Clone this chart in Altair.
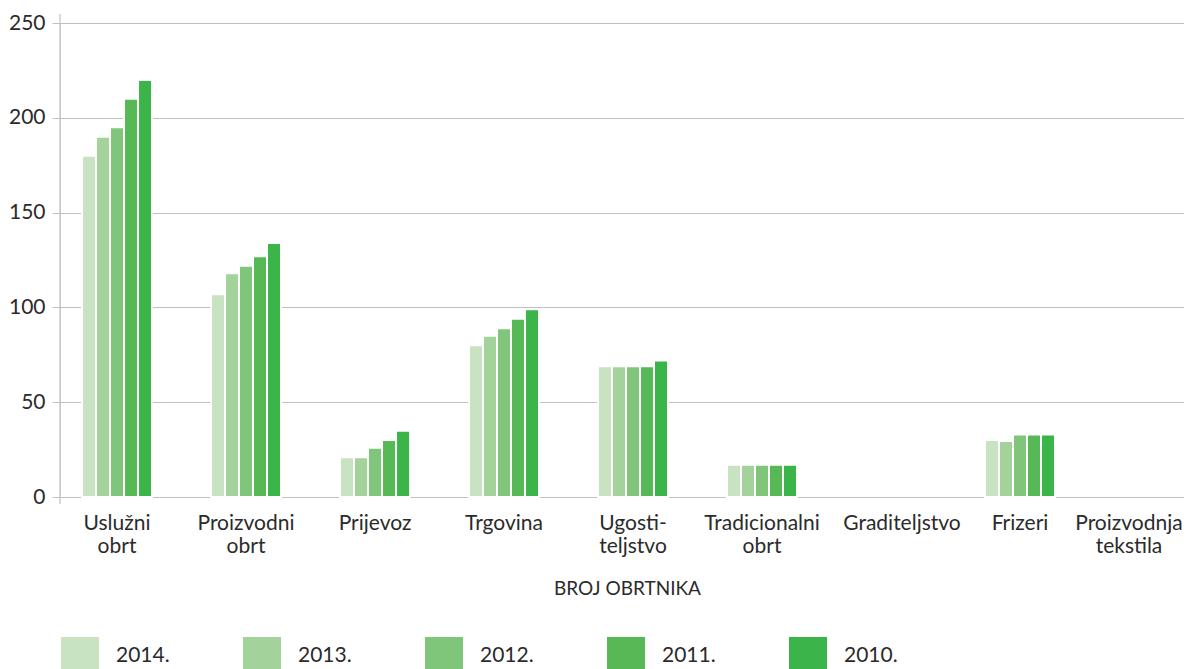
import json
import altair as alt
import pandas as pd

categories = ["Uslužni obrt", "Proizvodni obrt", "Prijevoz", "Trgovina", "Ugostiteljstvo",
              "Tradicionalni obrt", "Graditeljstvo", "Frizeri", "Proizvodnja tekstila"]
label_lines = [["Uslužni", "obrt"], ["Proizvodni", "obrt"], ["Prijevoz"], ["Trgovina"],
               ["Ugosti-", "teljstvo"], ["Tradicionalni", "obrt"], ["Graditeljstvo"],
               ["Frizeri"], ["Proizvodnja", "tekstila"]]
years = ["2014.", "2013.", "2012.", "2011.", "2010."]
colors = ["#c8e3c1", "#a3d39b", "#80c67a", "#56b955", "#3bb54a"]

v2014 = [180, 107, 21, 80, 69, 17, 0, 30, 0]
v2013 = [190, 118, 21, 85, 69, 17, 0, 29.5, 0]
v2012 = [195, 122, 26, 89, 69, 17, 0, 33, 0]
v2011 = [210, 127, 30, 94, 69, 17, 0, 33, 0]
v2010 = [220, 134, 35, 99, 72, 17, 0, 33, 0]
y_ticks = [0, 50, 100, 150, 200, 250]

series = dict(zip(years, [v2014, v2013, v2012, v2011, v2010]))
rows = []
for y, vals in series.items():
    for c, v in zip(categories, vals):
        rows.append({"kategorija": c, "godina": y, "broj": v})
df = pd.DataFrame(rows)

FONT = "Lato"
TXT = "#2b2b2b"
GRID = "#c0c0c0"

label_expr = f"{json.dumps(label_lines, ensure_ascii=False)}[indexof({json.dumps(categories, ensure_ascii=False)}, datum.value)]"

bars = alt.Chart(df).transform_filter("datum.broj > 0").mark_bar(
    stroke="white", strokeWidth=2
).encode(
    x=alt.X("kategorija:N", sort=categories,
            scale=alt.Scale(domain=categories, range=[0, 1146], paddingInner=0.457, paddingOuter=0.1705),
            axis=alt.Axis(title="BROJ OBRTNIKA", labelExpr=label_expr, labelAngle=0,
                          labelFont=FONT, labelFontSize=21, labelColor=TXT, labelLineHeight=23,
                          labelPadding=15, ticks=False, domain=False, labelLimit=300,
                          labelOffset={"condition": [
                              {"test": "datum.value === 'Proizvodnja tekstila'", "value": -20},
                              {"test": "datum.value === 'Graditeljstvo'", "value": 11}], "value": 0},
                          titleFont=FONT, titleFontSize=19, titleFontWeight="normal", titleColor=TXT,
                          titleBaseline="alphabetic", titleY=97, titleX=567)),
    xOffset=alt.XOffset("godina:N", sort=years, scale=alt.Scale(paddingInner=0, paddingOuter=0)),
    y=alt.Y("broj:Q", scale=alt.Scale(domain=[0, 250], nice=False),
            axis=alt.Axis(title=None, values=y_ticks, labelFont=FONT, labelFontSize=21,
                          labelColor=TXT, labelPadding=7, tickSize=8, tickColor=GRID,
                          gridColor=GRID, gridWidth=1.2, domain=False)),
    color=alt.Color("godina:N", sort=years, scale=alt.Scale(domain=years, range=colors),
                    legend=alt.Legend(title=None, orient="none", legendX=1, legendY=614,
                                      direction="horizontal", symbolType="square", symbolSize=1444,
                                      symbolStrokeWidth=0, symbolOpacity=1, labelOffset=17,
                                      labelFont=FONT, labelFontSize=21, labelColor=TXT,
                                      columnPadding=73, padding=0, labelLimit=200)),
)

axis_line = alt.Chart(pd.DataFrame({"a": [0]})).mark_rule(color=GRID, strokeWidth=1.2).encode(
    x=alt.value(0), y=alt.value(-9), y2=alt.value(481)
)

chart = alt.layer(axis_line, bars).properties(
    width=1124, height=474,
    autosize=alt.AutoSizeParams(type="none"),
    padding={"left": 52, "top": 15, "right": 0, "bottom": 172},
).configure_view(stroke=None).configure(font=FONT)

chart.save("out.html", embed_options={"renderer": "svg", "actions": False})
